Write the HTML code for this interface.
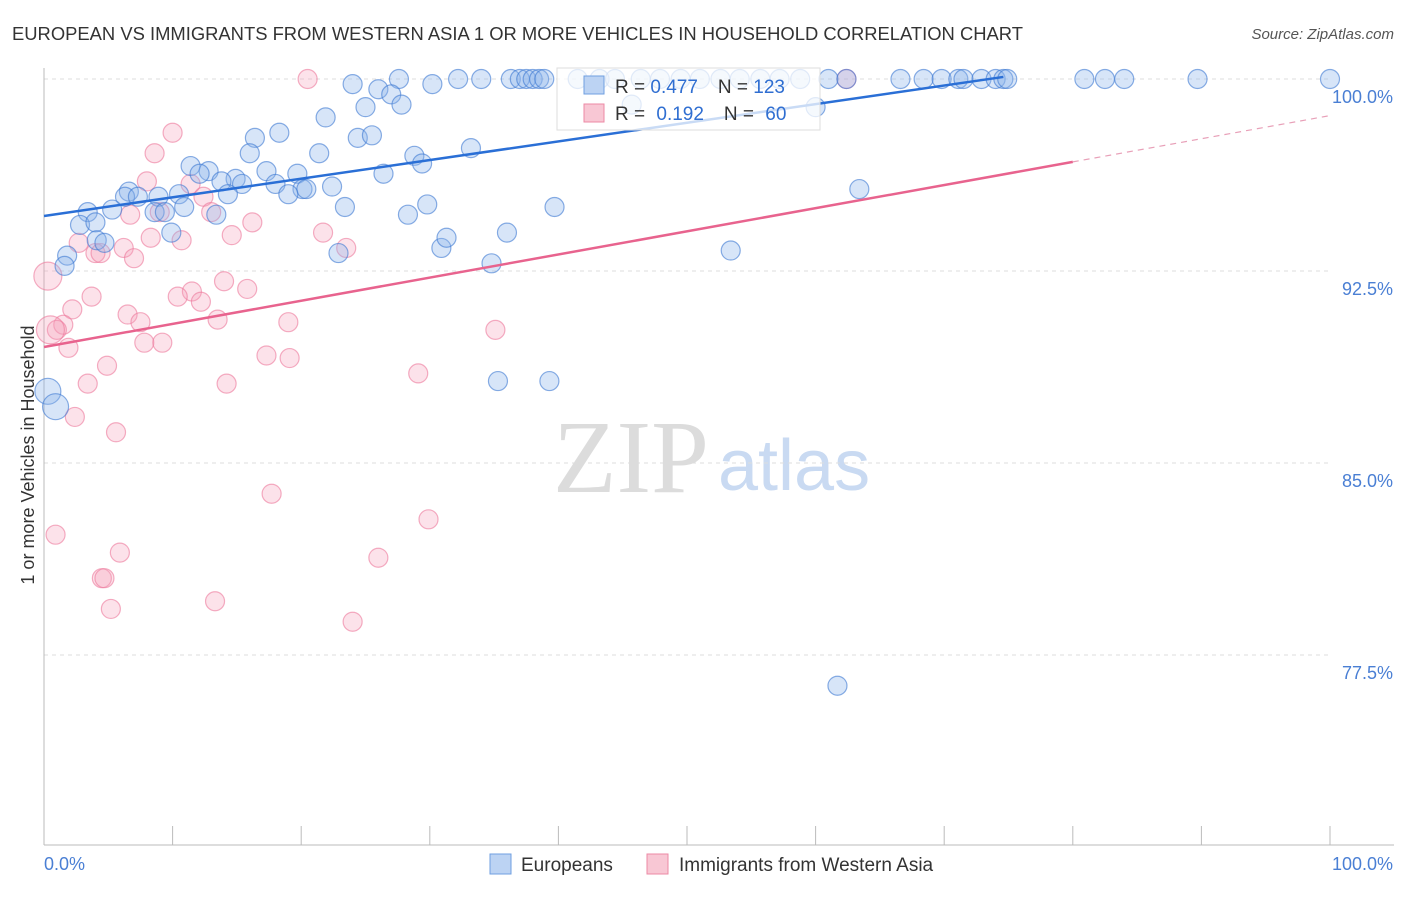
<!DOCTYPE html>
<html><head><meta charset="utf-8"><style>
body{margin:0;background:#fff;font-family:"Liberation Sans",sans-serif;}
svg text{font-family:"Liberation Sans",sans-serif;}
</style></head><body>
<svg id="chart" width="1406" height="892" xmlns="http://www.w3.org/2000/svg">
<text x="12" y="40" font-size="18.4" fill="#333">EUROPEAN VS IMMIGRANTS FROM WESTERN ASIA 1 OR MORE VEHICLES IN HOUSEHOLD CORRELATION CHART</text>
<text x="1394" y="39" font-size="15" fill="#555" font-style="italic" text-anchor="end">Source: ZipAtlas.com</text>
<g>
<text x="553" y="492" font-size="104" fill="#dcdcdc" style="font-family:'Liberation Serif',serif">ZIP</text>
<text x="718" y="490" font-size="72" fill="#c9daf2">atlas</text>
</g>
<g id="grid"></g>
<g id="axes"></g>
<g id="pts"></g>
<g id="lines"></g>
<text transform="translate(34,455) rotate(-90)" font-size="18" fill="#333" text-anchor="middle">1 or more Vehicles in Household</text>
<g>
<rect x="557" y="68" width="263" height="62" fill="rgba(255,255,255,0.75)" stroke="#ddd"/>
<rect x="584" y="76" width="20" height="18" fill="#bcd3f3" stroke="#6f9fe0"/>
<text x="615" y="93" font-size="19" fill="#333">R = <tspan fill="#2f6ed1">0.477</tspan><tspan dx="20">N = </tspan><tspan fill="#2f6ed1">123</tspan></text>
<rect x="584" y="104" width="20" height="18" fill="#f8c7d4" stroke="#ec8aa5"/>
<text x="615" y="120" font-size="19" fill="#333">R = <tspan dx="6" fill="#2f6ed1">0.192</tspan><tspan dx="20">N = </tspan><tspan dx="6" fill="#2f6ed1">60</tspan></text>
</g>
<g>
<rect x="490" y="854" width="21" height="20" fill="#bcd3f3" stroke="#6f9fe0"/>
<text x="521" y="871" font-size="19" fill="#333">Europeans</text>
<rect x="647" y="854" width="21" height="20" fill="#f8c7d4" stroke="#ec8aa5"/>
<text x="679" y="871" font-size="19" fill="#333">Immigrants from Western Asia</text>
</g>
</svg>
<script>
const yTicks=[77.5,85.0,92.5,100.0];
const xTickLabels=["0.0%","100.0%"];
const blueX=[27.6,32.2,34.0,36.3,37.0,37.5,38.0,38.5,38.9,41.5,43.2,44.4,46.4,47.9,49.5,51.0,52.6,54.1,55.7,57.2,58.8,61.0,62.4,66.6,68.4,69.8,71.1,71.5,72.9,74.0,74.6,74.9,80.9,82.5,84.0,89.7,100,
24.0,26.0,30.2,27.0,25.0,27.8,21.9,45.7,60.0,24.4,25.5,16.4,18.3,21.4,16.0,19.7,11.4,12.8,12.1,17.3,14.9,13.8,15.4,28.8,29.4,33.2,26.4,18.0,20.1,20.4,22.4,19.0,14.3,6.6,6.3,7.3,8.9,10.5,8.6,9.4,10.9,13.4,5.3,3.4,2.8,4.0,23.4,28.3,29.8,39.7,36.0,30.9,31.3,22.9,34.8,9.9,4.1,4.7,1.8,1.6,53.4,63.4,35.3,39.3,0.3,0.9,61.7];
const blueY=[100,100,100,100,100,100,100,100,100,100,100,100,100,100,100,100,100,100,100,100,100,100,100,100,100,100,100,100,100,100,100,100,100,100,100,100,100,
99.8,99.6,99.8,99.4,98.9,99.0,98.5,99.0,98.9,97.7,97.8,97.7,97.9,97.1,97.1,96.3,96.6,96.4,96.3,96.4,96.1,96.0,95.9,97.0,96.7,97.3,96.3,95.9,95.7,95.7,95.8,95.5,95.5,95.6,95.4,95.4,95.4,95.5,94.8,94.8,95.0,94.7,94.9,94.8,94.3,94.4,95.0,94.7,95.1,95.0,94.0,93.4,93.8,93.2,92.8,94.0,93.7,93.6,93.1,92.7,93.3,95.7,88.2,88.2,87.8,87.2,76.3];
const blueBig=[0.3,0.9,1.8,1.6,2.8,3.4];
const pinkX=[20.5,62.4,10.0,8.6,8.0,11.4,12.4,9.0,13.0,6.7,16.2,2.7,4.0,8.3,10.7,14.6,6.2,7.0,21.7,23.5,14.0,15.8,11.5,12.2,10.4,3.7,2.2,6.5,7.5,13.5,19.0,35.1,1.5,1.0,7.8,9.2,1.9,17.3,19.1,4.9,14.2,29.1,3.4,2.4,5.6,17.7,29.9,0.9,5.9,26.0,4.5,4.7,5.2,13.3,24.0,0.3,0.5,4.4];
const pinkY=[100,100,97.9,97.1,96.0,95.9,95.4,94.8,94.8,94.7,94.4,93.6,93.2,93.8,93.7,93.9,93.4,93.0,94.0,93.4,92.1,91.8,91.7,91.3,91.5,91.5,91.0,90.8,90.5,90.6,90.5,90.2,90.4,90.2,89.7,89.7,89.5,89.2,89.1,88.8,88.1,88.5,88.1,86.8,86.2,83.8,82.8,82.2,81.5,81.3,80.5,80.5,79.3,79.6,78.8,92.3,90.2,93.2];
const pinkBig=[0.3,0.5];
const blueTrend=[94.65,0.0728,74.6];
const pinkTrend=[89.53,0.0904,80.0];
const NS="http://www.w3.org/2000/svg";
const X0=44,X1=1330,YTOP=79,PXPER=25.6;
function sx(v){return X0+(X1-X0)*v/100;}
function sy(v){return YTOP+(100-v)*PXPER;}
function mk(tag,attrs,parent){const e=document.createElementNS(NS,tag);for(const k in attrs)e.setAttribute(k,attrs[k]);document.getElementById(parent).appendChild(e);return e;}
yTicks.forEach(t=>{
 const g=mk('line',{x1:44,x2:1330,y1:sy(t),y2:sy(t),stroke:'#ddd','stroke-dasharray':'4,4'},'grid');
 
 
 const l=mk('text',{x:1393,y:sy(t)+24,'font-size':18,fill:'#4a7fd4','text-anchor':'end'},'axes');
 l.textContent=t.toFixed(1)+'%';
 
 
});
const ax=mk('line',{x1:44,x2:44,y1:68,y2:845,stroke:'#bbb'},'axes');


const bx=mk('line',{x1:44,x2:1394,y1:845,y2:845,stroke:'#bbb'},'axes');


for(let i=0;i<=10;i++){const t=mk('line',{x1:sx(i*10),x2:sx(i*10),y1:826,y2:845,stroke:'#bbb'},'axes');
 
 }
const xl0=mk('text',{x:44,y:870,'font-size':18,fill:'#4a7fd4'},'axes');xl0.textContent=xTickLabels[0];


const xl1=mk('text',{x:1393,y:870,'font-size':18,fill:'#4a7fd4','text-anchor':'end'},'axes');xl1.textContent=xTickLabels[1];


pinkX.forEach((v,i)=>{const big=pinkBig.includes(v)&&i>=55;
 const c=mk('circle',{cx:sx(v),cy:sy(pinkY[i]),r:big?14:9.5,fill:'rgba(244,160,185,0.3)',stroke:'rgba(236,120,155,0.6)','stroke-width':1.2},'pts');
 
 });
blueX.forEach((v,i)=>{const big=blueBig.includes(v)&&i>=100;
 const c=mk('circle',{cx:sx(v),cy:sy(blueY[i]),r:big?13:9.5,fill:'rgba(140,180,235,0.35)',stroke:'rgba(60,120,210,0.6)','stroke-width':1.2},'pts');
 
 });
const bl=mk('line',{x1:sx(0),y1:sy(blueTrend[0]),x2:sx(blueTrend[2]),y2:sy(blueTrend[0]+blueTrend[1]*blueTrend[2]),stroke:'#2a6fd6','stroke-width':2.5},'lines');


const pl=mk('line',{x1:sx(0),y1:sy(pinkTrend[0]),x2:sx(pinkTrend[2]),y2:sy(pinkTrend[0]+pinkTrend[1]*pinkTrend[2]),stroke:'#e8638e','stroke-width':2.5},'lines');


const pd=mk('line',{x1:sx(pinkTrend[2]),y1:sy(pinkTrend[0]+pinkTrend[1]*pinkTrend[2]),x2:sx(100),y2:sy(pinkTrend[0]+pinkTrend[1]*100),stroke:'#e8a0b8','stroke-width':1.2,'stroke-dasharray':'6,5'},'lines');


</script>
</body></html>
